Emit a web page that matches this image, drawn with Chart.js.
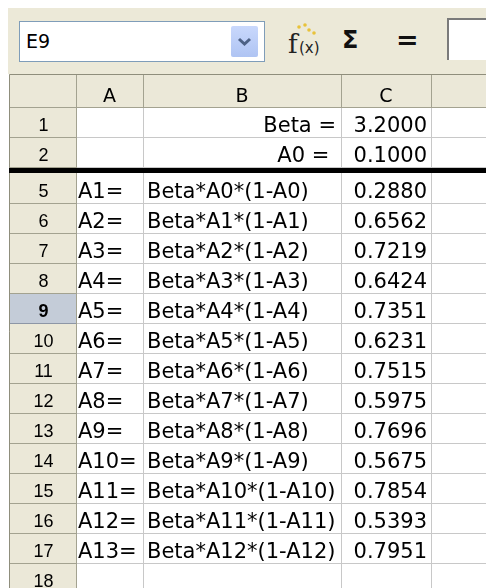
<!DOCTYPE html>
<html lang="en">
  <head>
    <meta charset="UTF-8" />
    <title>Logistic map sheet</title>
    <script src="https://cdn.jsdelivr.net/npm/chart.js"></script>
    <style>
      body { margin: 0; background: #fff; width: 486px; height: 588px; overflow: hidden; position: relative; font-family: "DejaVu Sans", sans-serif; }
      .toolbar { position: absolute; left: 8px; top: 8px; width: 478px; height: 66px; background: #ece9d8; }
      .name-box { position: absolute; left: 19px; top: 21px; width: 244px; height: 39px; border: 1px solid #7f9db9; background: #fff; }
      .name-box span { position: absolute; left: 6px; top: 8px; font-size: 19px; color: #000; }
      .drop { position: absolute; left: 211px; top: 4px; width: 27px; height: 31px; border-radius: 2px; background: linear-gradient(#c9d8fc, #afc4f3); }
      .fx { position: absolute; left: 287px; top: 22px; width: 36px; height: 36px; }
      .sigma { position: absolute; left: 342px; top: 26px; font-size: 24px; font-weight: bold; color: #111; line-height: 28px; }
      .equals { position: absolute; left: 396px; top: 25px; font-size: 27px; font-weight: bold; color: #111; line-height: 30px; }
      .input { position: absolute; left: 447px; top: 18px; width: 60px; height: 40px; background: #fff; border-top: 2px solid #7a7a7a; border-left: 2px solid #7a7a7a; }
      #sheet { position: absolute; left: 0; top: 74px; }
    </style>
  </head>
  <body>
    <!-- barra de formulas -->
    <div class="toolbar"></div>
    <div class="name-box">
      <span>E9</span>
      <div class="drop">
        <svg width="27" height="31"><polyline points="8,13 13.5,18 19,13" fill="none" stroke="#4d6185" stroke-width="3" /></svg>
      </div>
    </div>
    <div class="fx">
      <svg width="36" height="36">
        <text x="1" y="31" font-family="DejaVu Serif" font-size="26" fill="#222">f</text>
        <text x="12" y="31" font-family="DejaVu Sans" font-size="15" fill="#222">(x)</text>
        <circle cx="12" cy="5" r="1.8" fill="#e8c23a" />
        <circle cx="18" cy="3" r="1.8" fill="#e8c23a" />
        <circle cx="22" cy="8" r="1.8" fill="#e8c23a" />
        <circle cx="27" cy="11" r="1.8" fill="#e8c23a" />
      </svg>
    </div>
    <div class="sigma">Σ</div>
    <div class="equals">=</div>
    <div class="input"></div>

    <canvas id="sheet" width="486" height="514"></canvas>

    <script>
      // dados da planilha
      const colLetters = ["A", "B", "C"];
      const rowNums = ["1", "2", "5", "6", "7", "8", "9", "10", "11", "12", "13", "14", "15", "16", "17", "18"];
      const colA = ["", "", "A1=", "A2=", "A3=", "A4=", "A5=", "A6=", "A7=", "A8=", "A9=", "A10=", "A11=", "A12=", "A13=", ""];
      const colB = [
        "Beta =", "A0 = ",
        "Beta*A0*(1-A0)", "Beta*A1*(1-A1)", "Beta*A2*(1-A2)", "Beta*A3*(1-A3)",
        "Beta*A4*(1-A4)", "Beta*A5*(1-A5)", "Beta*A6*(1-A6)", "Beta*A7*(1-A7)",
        "Beta*A8*(1-A8)", "Beta*A9*(1-A9)", "Beta*A10*(1-A10)", "Beta*A11*(1-A11)",
        "Beta*A12*(1-A12)", "",
      ];
      const colC = [3.2, 0.1, 0.288, 0.6562, 0.7219, 0.6424, 0.7351, 0.6231, 0.7515, 0.5975, 0.7696, 0.5675, 0.7854, 0.5393, 0.7951, null];
      const selectedRow = "9";

      // layout (unidades das escalas)
      const colWidths = [67, 67, 198, 90, 60];
      const HEADER_H = 1.1;
      const SEP_H = 0.2;
      const SEP_AFTER = 2; // linhas 3 e 4 ocultas

      const colEdges = [0];
      colWidths.forEach((w) => colEdges.push(colEdges[colEdges.length - 1] + w));

      function rowTop(i) {
        return HEADER_H + i + (i >= SEP_AFTER ? SEP_H : 0);
      }

      const sheetPlugin = {
        id: "sheet",
        beforeDatasetsDraw(chart) {
          const ctx = chart.ctx;
          const xs = chart.scales.x;
          const ys = chart.scales.y;
          const X = (v) => Math.round(xs.getPixelForValue(v));
          const Y = (v) => Math.round(ys.getPixelForValue(v));
          const left = X(0), right = chart.width;
          const top = Y(0), bottom = chart.height;
          const hBottom = Y(HEADER_H);

          ctx.save();
          ctx.fillStyle = "#fff";
          ctx.fillRect(left, top, right - left, bottom - top);

          // cabecalhos
          ctx.fillStyle = "#ebe8d8";
          ctx.fillRect(left, top, right - left, hBottom - top);
          ctx.fillRect(left, top, X(colEdges[1]) - left, bottom - top);

          rowNums.forEach((r, i) => {
            if (r === selectedRow) {
              ctx.fillStyle = "#c4ccd8";
              ctx.fillRect(left, Y(rowTop(i)), X(colEdges[1]) - left, Y(rowTop(i) + 1) - Y(rowTop(i)));
            }
          });

          // grade clara
          ctx.lineWidth = 1;
          ctx.strokeStyle = "#c8c8c8";
          for (let c = 2; c < colEdges.length - 1; c++) {
            ctx.beginPath();
            ctx.moveTo(X(colEdges[c]) + 0.5, hBottom);
            ctx.lineTo(X(colEdges[c]) + 0.5, bottom);
            ctx.stroke();
          }
          rowNums.forEach((r, i) => {
            const y = Y(rowTop(i) + 1) + 0.5;
            ctx.beginPath();
            ctx.moveTo(X(colEdges[1]), y);
            ctx.lineTo(right, y);
            ctx.stroke();
          });

          // grade dos cabecalhos
          ctx.strokeStyle = "#a3a290";
          for (let c = 1; c < colEdges.length - 1; c++) {
            ctx.beginPath();
            ctx.moveTo(X(colEdges[c]) + 0.5, top);
            ctx.lineTo(X(colEdges[c]) + 0.5, c === 1 ? bottom : hBottom);
            ctx.stroke();
          }
          rowNums.forEach((r, i) => {
            const y = Y(rowTop(i) + 1) + 0.5;
            ctx.strokeStyle = r === selectedRow ? "#8d96a6" : "#a3a290";
            ctx.beginPath();
            ctx.moveTo(left, y);
            ctx.lineTo(X(colEdges[1]), y);
            ctx.stroke();
          });
          ctx.strokeStyle = "#a3a290";
          ctx.beginPath();
          ctx.moveTo(left, hBottom + 0.5);
          ctx.lineTo(right, hBottom + 0.5);
          ctx.stroke();
          ctx.strokeStyle = "#8f8e7c";
          ctx.beginPath();
          ctx.moveTo(left + 0.5, bottom);
          ctx.lineTo(left + 0.5, top + 0.5);
          ctx.lineTo(right, top + 0.5);
          ctx.stroke();

          // separador grosso (linhas ocultas)
          const sepY = ys.getPixelForValue(rowTop(SEP_AFTER - 1) + 1 + SEP_H / 2);
          ctx.fillStyle = "#000";
          ctx.fillRect(left, Math.round(sepY - 2.5), right - left, 5);

          // textos dos cabecalhos
          ctx.fillStyle = "#000";
          ctx.textAlign = "center";
          ctx.textBaseline = "alphabetic";
          ctx.font = '19px "DejaVu Sans"';
          colLetters.forEach((l, c) => {
            const cx = (X(colEdges[c + 1]) + X(colEdges[c + 2])) / 2;
            ctx.fillText(l, cx, hBottom - 5);
          });
          const rhx = (X(colEdges[0]) + X(colEdges[1])) / 2;
          rowNums.forEach((r, i) => {
            ctx.font = (r === selectedRow ? "bold " : "") + '18px "Liberation Sans"';
            ctx.fillText(r, rhx + 1, Y(rowTop(i)) + 24);
          });

          // celulas
          ctx.font = '21px "DejaVu Sans"';
          rowNums.forEach((r, i) => {
            const base = Y(rowTop(i)) + 25;
            ctx.textAlign = "left";
            if (colA[i]) ctx.fillText(colA[i], X(colEdges[1]) + 2, base);
            if (colB[i]) {
              if (i < SEP_AFTER) {
                ctx.textAlign = "right";
                ctx.fillText(colB[i], X(colEdges[3]) - 5, base);
              } else {
                ctx.fillText(colB[i], X(colEdges[2]) + 4, base);
              }
            }
            if (colC[i] !== null) {
              ctx.textAlign = "right";
              ctx.fillText(colC[i].toFixed(4), X(colEdges[4]) - 4, base);
            }
          });
          ctx.restore();
        },
      };

      new Chart(document.getElementById("sheet"), {
        type: "scatter",
        data: { datasets: [{ data: [] }] },
        options: {
          responsive: false,
          animation: false,
          devicePixelRatio: 1,
          layout: { padding: { left: 9, right: 0, top: 0, bottom: 0 } },
          plugins: { legend: { display: false }, tooltip: { enabled: false } },
          scales: {
            x: { type: "linear", display: false, min: 0, max: 477 },
            y: { type: "linear", display: false, min: 0, max: 514 / 30, reverse: true },
          },
        },
        plugins: [sheetPlugin],
      });
    </script>
  </body>
</html>
